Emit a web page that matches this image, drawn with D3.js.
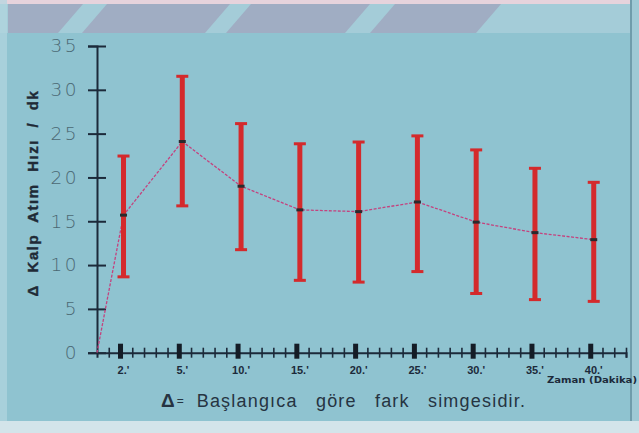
<!DOCTYPE html>
<html>
<head>
<meta charset="utf-8">
<script src="https://cdn.jsdelivr.net/npm/d3@7"></script>
<style>
  body { margin: 0; background: #8fc3d0; }
  svg { display: block; }
</style>
</head>
<body>
<svg id="chart" width="639" height="433"></svg>
<script>
// data
const timeLabels = ["2.'", "5.'", "10.'", "15.'", "20.'", "25.'", "30.'", "35.'", "40.'"]
const means = [15.7, 24.1, 19.0, 16.3, 16.1, 17.2, 14.9, 13.7, 12.9]
const upper = [22.5, 31.6, 26.2, 23.9, 24.1, 24.8, 23.2, 21.1, 19.5]
const lower = [8.6, 16.7, 11.7, 8.2, 8.0, 9.2, 6.7, 6.0, 5.8]
const yTicks = [0, 5, 10, 15, 20, 25, 30, 35]
const startValue = 0

const svg = d3.select('#chart')

// axis runs in small steps, one label every 5 steps starting at step 2
const stepOf = i => 2 + 5 * i

const xScale = d3.scaleLinear().domain([0, 45]).range([97, 626])
const yScale = d3.scaleLinear().domain([0, 35]).range([352.7, 46])

// ---- background ----
const bg = svg.append('g')
bg.append('rect').attr('width', 639).attr('height', 433).attr('fill', '#8fc3d0')
bg.append('rect').attr('width', 639).attr('height', 4).attr('fill', '#e6d3dc')
bg.append('rect').attr('y', 4).attr('width', 639).attr('height', 29).attr('fill', '#a4ccd8')
const stripes = [[8, 58], [82, 205], [226, 345], [370, 476]]
stripes.forEach(s => {
  const left = s[0] === 8 ? 8 : s[0] + 25
  bg.append('polygon')
    .attr('points', `${left},4 ${s[1] + 25},4 ${s[1]},33 ${s[0]},33`)
    .attr('fill', '#a0adc3')
})
bg.append('rect').attr('width', 7).attr('height', 433).attr('fill', '#b2d6e0').attr('opacity', 0.7)
bg.append('rect').attr('y', 421).attr('width', 639).attr('height', 12).attr('fill', '#d3e4ea')
bg.append('rect').attr('x', 630).attr('width', 2).attr('height', 421).attr('fill', '#6f9cab')
bg.append('rect').attr('x', 632).attr('width', 7).attr('height', 421).attr('fill', '#9ec9d5')

// ---- y axis ----
const leftAxis = d3.axisLeft(yScale).tickValues(yTicks).tickSize(9).tickPadding(12)
const yAxisG = svg.append('g')
  .attr('transform', `translate(${xScale(0)}, 0)`)
  .call(leftAxis)
yAxisG.select('.domain').attr('stroke', '#1c2a3a').attr('stroke-width', 2)
yAxisG.selectAll('.tick line').attr('x1', -9).attr('x2', 9)
  .attr('stroke', '#1c2a3a').attr('stroke-width', 2)
yAxisG.selectAll('.tick text')
  .attr('fill', '#4b6873')
  .attr('font-family', 'DejaVu Sans')
  .attr('font-weight', 300)
  .attr('font-size', 18.5)
  .attr('letter-spacing', 2.5)
  .attr('dx', 3)

// ---- x axis ----
const bottomAxis = d3.axisBottom(xScale).tickValues(d3.range(1, 46)).tickFormat('').tickSize(5)
const xAxisG = svg.append('g')
  .attr('transform', `translate(0, ${yScale(0)})`)
  .call(bottomAxis)
xAxisG.select('.domain').attr('stroke', '#1c2a3a').attr('stroke-width', 2)
xAxisG.selectAll('.tick line').attr('y1', -5).attr('y2', 5)
  .attr('stroke', '#1c2a3a').attr('stroke-width', 1.6)

xAxisG.selectAll('.major')
  .data(timeLabels)
  .join('rect')
  .attr('class', 'major')
  .attr('x', (d, i) => xScale(stepOf(i)) - 2.5)
  .attr('y', -9)
  .attr('width', 5)
  .attr('height', 15)
  .attr('fill', '#141c26')

xAxisG.selectAll('.xlab')
  .data(timeLabels)
  .join('text')
  .attr('class', 'xlab')
  .attr('x', (d, i) => xScale(stepOf(i)) + 3)
  .attr('y', 21)
  .attr('text-anchor', 'middle')
  .attr('font-family', 'Liberation Sans')
  .attr('font-weight', 'bold')
  .attr('font-size', 11)
  .attr('fill', '#1c2a3a')
  .text(d => d)

svg.append('text')
  .attr('x', 547)
  .attr('y', 383)
  .attr('textLength', 90)
  .attr('lengthAdjust', 'spacingAndGlyphs')
  .attr('font-family', 'DejaVu Sans Condensed, DejaVu Sans')
  .attr('font-weight', 'bold')
  .attr('font-size', 9)
  .attr('fill', '#1c2a3a')
  .text('Zaman (Dakika)')

// ---- y title ----
svg.append('text')
  .attr('transform', 'translate(38, 193) rotate(-90)')
  .attr('text-anchor', 'middle')
  .attr('font-family', 'Liberation Sans')
  .attr('font-weight', 'bold')
  .attr('font-size', 15)
  .attr('letter-spacing', 1.5)
  .attr('word-spacing', 6)
  .attr('fill', '#1f2a36')
  .attr('stroke', '#1f2a36')
  .attr('stroke-width', 0.4)
  .text('Δ Kalp Atım Hızı / dk')

// ---- mean line ----
const linePoints = [{ step: 0, v: startValue }]
  .concat(means.map((v, i) => ({ step: stepOf(i), v: v })))

const linegen = d3.line()
  .x(d => d.step === 0 ? xScale(0) : xScale(d.step) + 3)
  .y(d => yScale(d.v))

svg.append('path')
  .attr('d', linegen(linePoints))
  .attr('fill', 'none')
  .attr('stroke', '#c4427e')
  .attr('stroke-width', 1.3)
  .attr('stroke-dasharray', '3,1.5')

// ---- error bars ----
const bars = svg.append('g')
timeLabels.forEach((lab, i) => {
  const cx = xScale(stepOf(i)) + 3
  bars.append('rect')
    .attr('x', cx - 2.5)
    .attr('y', yScale(upper[i]))
    .attr('width', 5)
    .attr('height', yScale(lower[i]) - yScale(upper[i]))
    .attr('fill', '#d42a2c')
  bars.append('rect')
    .attr('x', cx - 6)
    .attr('y', yScale(upper[i]) - 1)
    .attr('width', 12)
    .attr('height', 3)
    .attr('fill', '#d42a2c')
  bars.append('rect')
    .attr('x', cx - 6)
    .attr('y', yScale(lower[i]) - 2)
    .attr('width', 12)
    .attr('height', 3)
    .attr('fill', '#d42a2c')
  bars.append('rect')
    .attr('x', cx - 3.5)
    .attr('y', yScale(means[i]) - 1.5)
    .attr('width', 7)
    .attr('height', 3)
    .attr('fill', '#2a2a2e')
})

// ---- caption ----
const caption = svg.append('text')
  .attr('x', 161)
  .attr('y', 407)
  .attr('font-family', 'Liberation Sans')
  .attr('font-size', 18)
  .attr('fill', '#263442')
caption.append('tspan').attr('font-weight', 'bold').attr('font-size', 19).text('Δ')
caption.append('tspan').attr('font-size', 12).attr('dx', 2).attr('dy', -2).text('=')
caption.append('tspan').attr('dx', 13).attr('dy', 2)
  .attr('letter-spacing', 1.2).attr('word-spacing', 12)
  .text('Başlangıca göre fark simgesidir.')
</script>
</body>
</html>
